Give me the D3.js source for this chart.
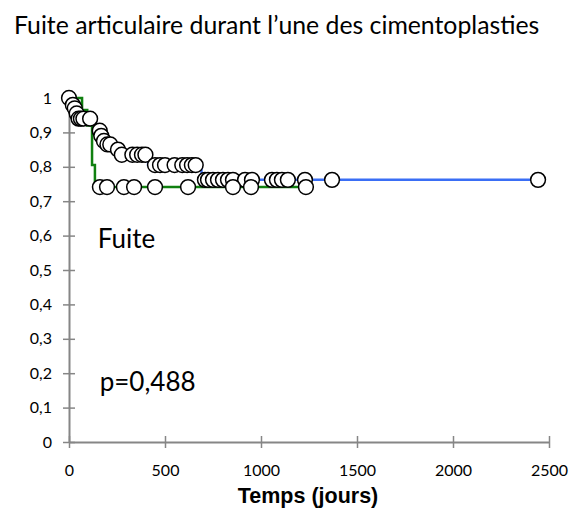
<!DOCTYPE html>
<html><head><meta charset="utf-8">
<script src="https://cdn.jsdelivr.net/npm/d3@7"></script>
<style>body{margin:0;background:#fff}svg{display:block}</style>
</head><body>
<svg id="c" width="578" height="513"></svg>
<script>
const title = "Fuite articulaire durant l’une des cimentoplasties";
const xLabel = "Temps (jours)";
const xTicks = [0, 500, 1000, 1500, 2000, 2500];
const yTicks = [0, 0.1, 0.2, 0.3, 0.4, 0.5, 0.6, 0.7, 0.8, 0.9, 1];

// Kaplan-Meier steps [time, survival]
const blueSteps = [[0,1.0],[12,0.985],[22,0.97],[32,0.955],[45,0.94],[140,0.922],[158,0.905],[165,0.89],[178,0.875],[195,0.865],[250,0.85],[268,0.835],[412,0.805],[690,0.762],[2443,0.762]];
const blueCensor = [[0,1.0],[20,0.98],[30,0.97],[40,0.955],[50,0.94],[62,0.94],[75,0.94],[110,0.94],[160,0.905],[168,0.89],[182,0.875],[200,0.865],[215,0.865],[255,0.85],[275,0.835],[330,0.835],[355,0.835],[380,0.835],[398,0.835],[448,0.805],[474,0.805],[500,0.805],[550,0.805],[590,0.805],[615,0.805],[640,0.805],[660,0.805],[708,0.762],[724,0.762],[750,0.762],[776,0.762],[802,0.762],[828,0.762],[854,0.762],[917,0.762],[953,0.762],[1057,0.762],[1083,0.762],[1109,0.762],[1140,0.762],[1229,0.762],[1370,0.762],[2443,0.762]];
const greenSteps = [[0,1.0],[68,0.965],[95,0.92],[120,0.805],[135,0.741],[1234,0.741]];
const greenCensor = [[161,0.741],[198,0.741],[286,0.741],[339,0.741],[448,0.741],[620,0.741],[854,0.741],[948,0.741],[1234,0.741]];

const texts = [{t:"Fuite", x:150, y:0.565}, {t:"p=0,488", x:160, y:0.148}];

const svg = d3.select("#c");
const x = d3.scaleLinear().domain([0,2500]).range([69,549]);
const y = d3.scaleLinear().domain([0,1]).range([442,98]);
const axisCol = "#868686";
const font = "Lato, 'Open Sans', sans-serif";

svg.append("text").attr("x",14).attr("y",34).attr("font-family",font).attr("font-size",24.8).attr("fill","#000").text(title);

// axes
const gx = svg.append("g").attr("transform","translate(0,442)")
  .call(d3.axisBottom(x).tickValues(xTicks).tickSize(6).tickSizeOuter(0).tickFormat(d3.format("d")));
gx.selectAll(".tick line").attr("y1",-6).attr("y2",6);
const gy = svg.append("g").attr("transform","translate(69,0)")
  .call(d3.axisLeft(y).tickValues(yTicks).tickSize(6).tickSizeOuter(0).tickFormat(d=> String(+d.toFixed(1)).replace(".",",")));
gy.selectAll(".tick line").attr("x1",-6).attr("x2",6);
[gx,gy].forEach(g=>{
  g.select(".domain").attr("stroke",axisCol).attr("stroke-width",2);
  g.selectAll(".tick line").attr("stroke",axisCol).attr("stroke-width",1.5);
  g.selectAll("text").attr("font-family",font).attr("font-size",16).attr("fill","#000");
});
gx.selectAll("text").attr("y",23).attr("dy","0.71em");
gy.selectAll("text").attr("x",-17);

const line = d3.line().curve(d3.curveStepAfter).x(d=>x(d[0])).y(d=>y(d[1]));
svg.append("path").datum(blueSteps).attr("d",line).attr("fill","none").attr("stroke","#3a6ef5").attr("stroke-width",2.5);
svg.append("path").datum(greenSteps).attr("d",line).attr("fill","none").attr("stroke","#108010").attr("stroke-width",2.5);

function marks(data){
  svg.append("g").selectAll("circle").data(data).join("circle")
    .attr("cx",d=>x(d[0])).attr("cy",d=>y(d[1])).attr("r",7.4)
    .attr("fill","#fff").attr("stroke","#000").attr("stroke-width",1.5);
}
marks(blueCensor);
marks(greenCensor);

svg.append("g").selectAll("text").data(texts).join("text")
  .attr("x",d=>x(d.x)).attr("y",d=>y(d.y)).attr("font-family",font).attr("font-size",26).attr("fill","#000").text(d=>d.t);

svg.append("text").attr("x",308).attr("y",503).attr("text-anchor","middle")
  .attr("font-family","'Liberation Sans', Arial, sans-serif").attr("font-weight","bold").attr("font-size",21.5).text(xLabel);
</script>
</body></html>
